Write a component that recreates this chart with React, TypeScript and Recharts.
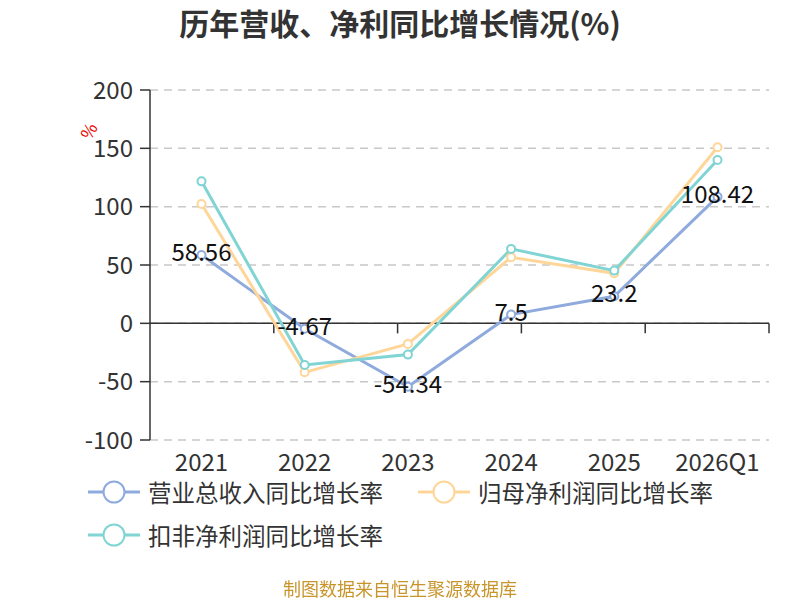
import React from 'react';
import { LineChart, Line, XAxis, YAxis, CartesianGrid, ReferenceLine, LabelList } from 'recharts';

const years = ['2021', '2022', '2023', '2024', '2025', '2026Q1'];
const revenueGrowth = [58.56, -4.67, -54.34, 7.5, 23.2, 108.42];
const netProfitGrowth = [102.3, -42, -17.7, 56.6, 42.9, 150.9];
const deductedProfitGrowth = [121.7, -35.7, -26.8, 63.8, 45.2, 140];
const yTicks = [-100, -50, 0, 50, 100, 150, 200];
const boundaries = [1, 2, 3, 4, 5, 6];

const seriesNames = ['营业总收入同比增长率', '归母净利润同比增长率', '扣非净利润同比增长率'];
const colors = ['#8faadc', '#ffd699', '#80d4d4'];

const data = years.map((year, i) => ({
  year,
  revenue: revenueGrowth[i],
  net: netProfitGrowth[i],
  deducted: deductedProfitGrowth[i],
}));

const FONT = '"Noto Sans CJK SC", "Noto Sans", sans-serif';

const LegendItem: React.FC<{ name: string; color: string; left: number; top: number }> = ({ name, color, left, top }) => (
  <div style={{ position: 'absolute', left, top, display: 'flex', alignItems: 'center', height: 26 }}>
    <svg width={52} height={26} style={{ marginRight: 8 }}>
      <line x1={0} y1={13} x2={52} y2={13} stroke={color} strokeWidth={3} />
      <circle cx={26} cy={13} r={10.5} fill="#fff" stroke={color} strokeWidth={2} />
    </svg>
    <span style={{ fontSize: 23.5, color: '#333', whiteSpace: 'nowrap', lineHeight: '26px' }}>{name}</span>
  </div>
);

const renderLabel = (props: any) => {
  const { x, y, value } = props;
  return (
    <text x={x} y={y} dy={6} textAnchor="middle" fontSize={24} fill="#111" fontFamily={FONT}>
      {value}
    </text>
  );
};

const App: React.FC = () => {
  return (
    <div style={{ position: 'fixed', left: 0, top: 0, width: 800, height: 600, background: '#fff', fontFamily: FONT }}>
      <div style={{ position: 'absolute', left: 0, top: 4, width: 800, textAlign: 'center', fontSize: 30, fontWeight: 'bold', color: '#333', lineHeight: '36px' }}>
        历年营收、净利同比增长情况(%)
      </div>
      <LineChart width={800} height={600} data={data} margin={{ top: 90, right: 31, left: 0, bottom: 130 }}>
        <CartesianGrid vertical={false} stroke="#c8c8c8" strokeDasharray="8 6" strokeWidth={1.5} />
        <XAxis
          dataKey="year"
          padding={{ left: 51.5, right: 51.5 }}
          axisLine={false}
          tickLine={false}
          height={30}
          tickMargin={8}
          interval={0}
          tick={{ fontSize: 24, fill: '#333', fontFamily: FONT }}
        />
        <XAxis xAxisId="b" type="number" domain={[0, 6]} hide />
        <YAxis
          width={150}
          domain={[-100, 200]}
          ticks={yTicks}
          interval={0}
          axisLine={{ stroke: '#333', strokeWidth: 1.5 }}
          tickLine={{ stroke: '#333', strokeWidth: 1.5 }}
          tickSize={10}
          tickMargin={7}
          tick={{ fontSize: 24, fill: '#333', fontFamily: FONT }}
        />
        <ReferenceLine y={0} stroke="#333" strokeWidth={1.5} />
        {boundaries.map((b) => (
          <ReferenceLine
            key={b}
            xAxisId="b"
            segment={[{ x: b, y: 0 }, { x: b, y: -8.6 }]}
            stroke="#333"
            strokeWidth={1.5}
          />
        ))}
        <Line dataKey="revenue" stroke={colors[0]} strokeWidth={3} dot={{ r: 4, fill: '#fff', stroke: colors[0], strokeWidth: 2 }} isAnimationActive={false} />
        <Line dataKey="net" stroke={colors[1]} strokeWidth={3} dot={{ r: 4, fill: '#fff', stroke: colors[1], strokeWidth: 2 }} isAnimationActive={false} />
        <Line dataKey="deducted" stroke={colors[2]} strokeWidth={3} dot={{ r: 4, fill: '#fff', stroke: colors[2], strokeWidth: 2 }} isAnimationActive={false} />
        <Line dataKey="revenue" stroke="none" dot={false} activeDot={false} legendType="none" isAnimationActive={false}>
          <LabelList dataKey="revenue" content={renderLabel} />
        </Line>
      </LineChart>
      <div style={{ position: 'absolute', left: 80, top: 118, color: '#e00', fontSize: 17, transform: 'rotate(-60deg)' }}>%</div>
      <LegendItem name={seriesNames[0]} color={colors[0]} left={88} top={479} />
      <LegendItem name={seriesNames[1]} color={colors[1]} left={418} top={479} />
      <LegendItem name={seriesNames[2]} color={colors[2]} left={88} top={522} />
      <div style={{ position: 'absolute', left: 0, top: 578, width: 800, textAlign: 'center', fontSize: 18, color: '#c8952c', lineHeight: '21px' }}>
        制图数据来自恒生聚源数据库
      </div>
    </div>
  );
};

export default App;
